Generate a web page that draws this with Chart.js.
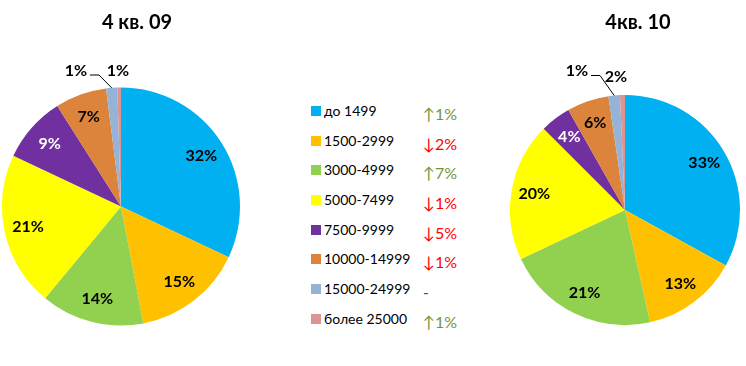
<!DOCTYPE html>
<html>
<head>
<meta charset="utf-8">
<script src="https://cdn.jsdelivr.net/npm/chart.js@4"></script>
<style>
  body { margin: 0; background: #fff; width: 746px; height: 366px; overflow: hidden; position: relative; font-family: Lato, "Open Sans", sans-serif; }
  canvas { position: absolute; top: 0; }
  #left { left: 0; }
  #right { left: 480px; }
  #legend { position: absolute; left: 311px; top: 96px; }
  .row { height: 29.7px; position: relative; }
  .box { position: absolute; left: 0; top: 10px; width: 10px; height: 10px; }
  .lbl { position: absolute; left: 13px; top: 0; line-height: 29.7px; font-size: 14px; color: #000; white-space: nowrap; }
  .chg { position: absolute; left: 112px; top: 3px; line-height: 29.7px; font-size: 16px; white-space: nowrap; }
</style>
</head>
<body>
<canvas id="left" width="300" height="366"></canvas>
<div id="legend"></div>
<canvas id="right" width="266" height="366"></canvas>
<script>
// Категории и цвета
const categories = ['до 1499', '1500-2999', '3000-4999', '5000-7499', '7500-9999', '10000-14999', '15000-24999', 'более 25000'];
const colors = ['#00B0F0', '#FFC000', '#92D050', '#FFFF00', '#7030A0', '#DD843C', '#95B3D7', '#D99694'];

// Доли (оценка по картинке) и подписи
const values09 = [32, 15, 14, 21, 9, 7, 1.5, 0.5];
const labels09 = ['32%', '15%', '14%', '21%', '9%', '7%', '1%', '1%'];
const values10 = [33, 13.5, 21.5, 19.5, 4.3, 5.9, 1.6, 0.7];
const labels10 = ['33%', '13%', '21%', '20%', '4%', '6%', '1%', '2%'];

// Изменения между периодами
const changes = ['↑1%', '↓2%', '↑7%', '↓1%', '↓5%', '↓1%', '-', '↑1%'];
const changeColors = ['#76923C', '#FF0000', '#76923C', '#FF0000', '#FF0000', '#FF0000', '#FF0000', '#76923C'];

// Легенда
const legend = document.getElementById('legend');
categories.forEach((c, i) => {
    const row = document.createElement('div');
    row.className = 'row';
    row.innerHTML = '<span class="box" style="background:' + colors[i] + '"></span>' +
        '<span class="lbl">' + c + '</span>' +
        '<span class="chg" style="color:' + changeColors[i] + '">' + changes[i] + '</span>';
    legend.appendChild(row);
});

// Подписи процентов и заголовки
const pieLabels = {
    id: 'pieLabels',
    afterDatasetsDraw(chart, args, opts) {
        const ctx = chart.ctx;
        const meta = chart.getDatasetMeta(0);
        ctx.save();
        ctx.textAlign = 'center';
        ctx.textBaseline = 'middle';

        // заголовок
        ctx.font = 'bold 20px Lato, "Open Sans"';
        ctx.fillStyle = '#000';
        const c0 = meta.data[0];
        ctx.fillText(opts.title, c0.x + opts.titleDx, 23);

        ctx.font = 'bold 16px Lato, "Open Sans"';
        meta.data.forEach((arc, i) => {
            const p = arc.getProps(['x', 'y', 'startAngle', 'endAngle', 'outerRadius'], true);
            const mid = (p.startAngle + p.endAngle) / 2;
            const out = opts.outside[i];
            if (!out) {
                const r = p.outerRadius * 0.8;
                ctx.fillStyle = i === 4 ? '#fff' : '#000';
                ctx.fillText(opts.labels[i], p.x + Math.cos(mid) * r, p.y + Math.sin(mid) * r);
            } else {
                const lx = p.x + out[0], ly = p.y + out[1];
                ctx.fillStyle = '#000';
                ctx.fillText(opts.labels[i], lx, ly);
                if (out[2]) {
                    ctx.strokeStyle = '#000';
                    ctx.lineWidth = 1;
                    ctx.beginPath();
                    ctx.moveTo(lx + 14, ly + 4.5);
                    ctx.lineTo(lx + 23, ly + 4.5);
                    ctx.lineTo(p.x + Math.cos(mid) * p.outerRadius, p.y + Math.sin(mid) * p.outerRadius);
                    ctx.stroke();
                }
            }
        });
        ctx.restore();
    }
};

function makePie(id, values, labels, padding, title, titleDx, outside) {
    new Chart(document.getElementById(id), {
        type: 'pie',
        data: {
            labels: categories,
            datasets: [{
                data: values,
                backgroundColor: colors,
                borderWidth: 0
            }]
        },
        options: {
            responsive: false,
            animation: false,
            devicePixelRatio: 1,
            layout: { padding: padding },
            plugins: {
                legend: { display: false },
                tooltip: { enabled: false },
                pieLabels: { labels: labels, title: title, titleDx: titleDx, outside: outside }
            }
        },
        plugins: [pieLabels]
    });
}

makePie('left', values09, labels09, { left: 2, top: 87, right: 60, bottom: 40 }, '4 кв. 09', 16,
    { 6: [-45, -136, true], 7: [-3, -136, false] });
makePie('right', values10, labels10, { left: 30, top: 95, right: 6, bottom: 41 }, '4кв. 10', 13,
    { 6: [-48, -139, true], 7: [-9, -133, false] });
</script>
</body>
</html>
